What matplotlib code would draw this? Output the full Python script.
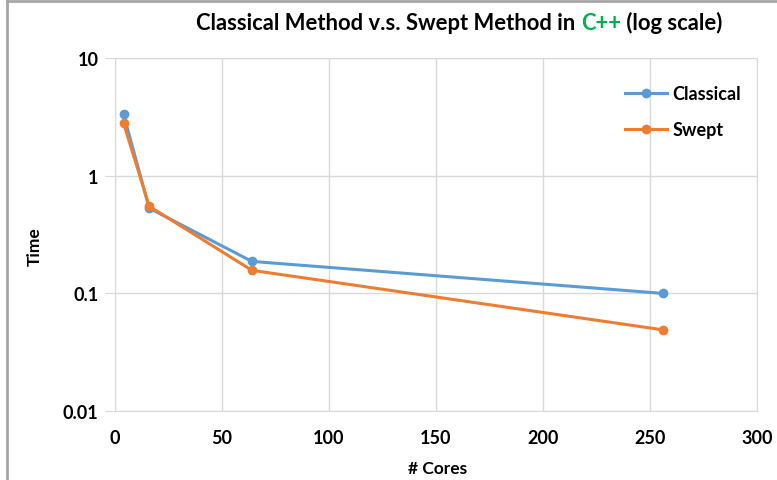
import matplotlib
matplotlib.use('Agg')
import matplotlib.pyplot as plt
from matplotlib.ticker import FixedLocator, NullLocator

# data
cores = [4, 16, 64, 256]
classical = [3.33, 0.53, 0.187, 0.1]
swept = [2.8, 0.55, 0.157, 0.049]

x_ticks = [0, 50, 100, 150, 200, 250, 300]
y_ticks = [0.01, 0.1, 1, 10]
y_labels = ['0.01', '0.1', '1', '10']

title_parts = [('Classical Method v.s. Swept Method in ', 'black'),
               ('C++', '#00b050'),
               (' (log scale)', 'black')]

plt.rcParams['font.family'] = ['Lato', 'DejaVu Sans']
plt.rcParams['font.weight'] = 'bold'

fig = plt.figure(figsize=(7.77, 4.81), dpi=100)
ax = fig.add_axes([0.148, 0.1435, 0.826, 0.7335])

ax.plot(cores, classical, color='#5b9bd5', lw=2.2, marker='o', ms=6, label='Classical', zorder=3)
ax.plot(cores, swept, color='#ed7d31', lw=2.2, marker='o', ms=6, label='Swept', zorder=4)

ax.set_yscale('log')
ax.set_xlim(0, 300)
ax.set_ylim(0.01, 10)
ax.xaxis.set_major_locator(FixedLocator(x_ticks))
ax.yaxis.set_major_locator(FixedLocator(y_ticks))
ax.yaxis.set_minor_locator(NullLocator())
ax.set_yticklabels(y_labels)
ax.set_xticklabels([str(t) for t in x_ticks])

ax.grid(True, color='#d9d9d9', lw=1)
ax.set_axisbelow(True)
for s in ax.spines.values():
    s.set_color('#d9d9d9')
ax.tick_params(axis='x', length=0, pad=13, labelsize=13)
ax.tick_params(axis='y', length=7, color='#d9d9d9', pad=5, labelsize=13)

ax.set_xlabel('# Cores', fontsize=12.5, fontweight='bold')
ax.xaxis.set_label_coords(0.503, -0.14)
ax.set_ylabel('Time', fontsize=12.5, fontweight='bold')
ax.yaxis.set_label_coords(-0.112, 0.47)

leg = ax.legend(loc='upper left', bbox_to_anchor=(0.77, 0.97), frameon=False,
                fontsize=13, handlelength=2.3, labelspacing=1.05, handletextpad=0.3)

# border lines of the original frame
fig.add_artist(plt.Line2D([0.009, 0.009], [0, 0.996], color='#a6a6a6', lw=2))
fig.add_artist(plt.Line2D([0.009, 1], [0.996, 0.996], color='#a6a6a6', lw=2))

# multi-coloured title
fig.canvas.draw()
r = fig.canvas.get_renderer()
pieces = []
for txt, col in title_parts:
    pieces.append(fig.text(0, 0.952, txt, color=col, fontsize=15.8, fontweight='bold', va='center'))
widths = [p.get_window_extent(r).width for p in pieces]
x = 459 - sum(widths) / 2
for p, w in zip(pieces, widths):
    p.set_x(x / 777)
    x += w

fig.savefig('out.png', dpi=100)
